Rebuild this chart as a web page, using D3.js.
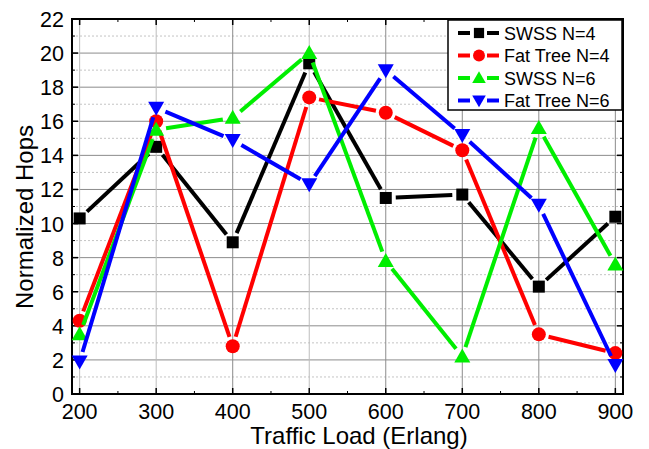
<!DOCTYPE html>
<head>
    <meta charset="utf-8">
    <script src="https://d3js.org/d3.v7.min.js"></script>
    <style>
      body { margin: 0; background: #fff; }
      text { font-family: "Liberation Sans", Arial, sans-serif; fill: #000; }
    </style>
</head>
<body>
    <script>
        // data
        var loads = [200, 300, 400, 500, 600, 700, 800, 900];
        var swss4 = [10.3, 14.5, 8.9, 19.4, 11.5, 11.7, 6.3, 10.4];
        var fatTree4 = [4.3, 16.0, 2.8, 17.4, 16.5, 14.3, 3.5, 2.4];
        var swss6 = [3.5, 15.5, 16.2, 20.0, 7.8, 2.2, 15.6, 7.6];
        var fatTree6 = [1.9, 16.8, 14.9, 12.3, 19.0, 15.2, 11.1, 1.7];
        var seriesNames = ["SWSS N=4", "Fat Tree N=4", "SWSS N=6", "Fat Tree N=6"];
        var yTicks = d3.range(0, 23, 2);

        var series = [
          {name: seriesNames[0], values: swss4, color: "#000000", sym: "square"},
          {name: seriesNames[1], values: fatTree4, color: "#ff0000", sym: "circle"},
          {name: seriesNames[2], values: swss6, color: "#00ee00", sym: "up"},
          {name: seriesNames[3], values: fatTree6, color: "#0000ff", sym: "down"}
        ];

        var W = 649, H = 449;
        var pLeft = 72, pRight = 623, pTop = 19, pBottom = 394;

        var svg = d3.select("body").append("svg")
          .attr("width", W).attr("height", H);

        var x = d3.scaleLinear().domain([190, 910]).range([pLeft, pRight]);
        var y = d3.scaleLinear().domain([0, 22]).range([pBottom, pTop]);

        // grid
        var grid = svg.append("g");
        grid.selectAll(".minor").data(d3.range(1, 22, 2)).enter().append("line")
          .attr("x1", pLeft).attr("x2", pRight)
          .attr("y1", function(d) {return y(d);}).attr("y2", function(d) {return y(d);})
          .attr("stroke", "#c4c4c4").attr("stroke-dasharray", "2,2").attr("stroke-width", 1);
        grid.selectAll(".hmajor").data(yTicks.slice(1, -1)).enter().append("line")
          .attr("x1", pLeft).attr("x2", pRight)
          .attr("y1", function(d) {return y(d);}).attr("y2", function(d) {return y(d);})
          .attr("stroke", "#8c8c8c").attr("stroke-width", 1);
        grid.selectAll(".vmajor").data(loads).enter().append("line")
          .attr("y1", pTop).attr("y2", pBottom)
          .attr("x1", function(d) {return x(d);}).attr("x2", function(d) {return x(d);})
          .attr("stroke", function(d) {return (d == 200 || d == 300 || d == 500) ? "#bdbdbd" : "#8c8c8c";})
          .attr("stroke-width", 1);

        // axes: ticks inward on all four sides
        var xMinor = d3.range(250, 900, 100);
        var yMinor = d3.range(1, 22, 2);
        var ax = svg.append("g").attr("stroke", "#000");
        function ticksX(yy, dir) {
          loads.forEach(function(d) {
            ax.append("line").attr("x1", x(d)).attr("x2", x(d)).attr("y1", yy).attr("y2", yy + dir*6).attr("stroke-width", 1.5);
          });
          xMinor.forEach(function(d) {
            ax.append("line").attr("x1", x(d)).attr("x2", x(d)).attr("y1", yy).attr("y2", yy + dir*3).attr("stroke-width", 1);
          });
        }
        function ticksY(xx, dir) {
          yTicks.forEach(function(d) {
            ax.append("line").attr("y1", y(d)).attr("y2", y(d)).attr("x1", xx).attr("x2", xx + dir*6).attr("stroke-width", 1.5);
          });
          yMinor.forEach(function(d) {
            ax.append("line").attr("y1", y(d)).attr("y2", y(d)).attr("x1", xx).attr("x2", xx + dir*3).attr("stroke-width", 1);
          });
        }
        ticksX(pBottom, -1); ticksX(pTop, 1);
        ticksY(pLeft, 1); ticksY(pRight, -1);
        svg.append("rect").attr("x", pLeft).attr("y", pTop)
          .attr("width", pRight - pLeft).attr("height", pBottom - pTop)
          .attr("fill", "none").attr("stroke", "#000").attr("stroke-width", 2);

        svg.selectAll(".xlab").data(loads).enter().append("text")
          .attr("x", function(d) {return x(d);}).attr("y", 419)
          .attr("text-anchor", "middle").attr("font-size", "21.5px")
          .text(function(d) {return d;});
        svg.selectAll(".ylab").data(yTicks).enter().append("text")
          .attr("x", 64).attr("y", function(d) {return y(d) + 8;})
          .attr("text-anchor", "end").attr("font-size", "21.5px")
          .text(function(d) {return d;});

        svg.append("text").attr("x", 359).attr("y", 444)
          .attr("text-anchor", "middle").attr("font-size", "24px")
          .text("Traffic Load (Erlang)");
        svg.append("text")
          .attr("transform", "translate(33,217) rotate(-90)")
          .attr("text-anchor", "middle").attr("font-size", "24px")
          .text("Normalized Hops");

        // markers
        function drawMarker(g, sym, cx, cy, color, k) {
          k = k || 1;
          if (sym == "square") {
            g.append("rect").attr("x", cx - 6*k).attr("y", cy - 6*k).attr("width", 12*k).attr("height", 12*k).attr("fill", color);
          } else if (sym == "circle") {
            g.append("circle").attr("cx", cx).attr("cy", cy).attr("r", 7*k).attr("fill", color);
          } else if (sym == "up") {
            g.append("path").attr("d", "M" + cx + "," + (cy - 8*k) + "L" + (cx + 8*k) + "," + (cy + 6*k) + "L" + (cx - 8*k) + "," + (cy + 6*k) + "Z").attr("fill", color);
          } else {
            g.append("path").attr("d", "M" + cx + "," + (cy + 8*k) + "L" + (cx + 8*k) + "," + (cy - 6*k) + "L" + (cx - 8*k) + "," + (cy - 6*k) + "Z").attr("fill", color);
          }
        }

        var gap = 10;
        series.forEach(function(s) {
          var g = svg.append("g");
          var pts = loads.map(function(d, i) {return [x(d), y(s.values[i])];});
          for (var i = 0; i < pts.length - 1; i++) {
            var a = pts[i], b = pts[i + 1];
            var dx = b[0] - a[0], dy = b[1] - a[1];
            var len = Math.sqrt(dx*dx + dy*dy);
            if (len <= 2*gap) continue;
            var ux = dx/len, uy = dy/len;
            g.append("line")
              .attr("x1", a[0] + ux*gap).attr("y1", a[1] + uy*gap)
              .attr("x2", b[0] - ux*gap).attr("y2", b[1] - uy*gap)
              .attr("stroke", s.color).attr("stroke-width", 4);
          }
          pts.forEach(function(p) {drawMarker(g, s.sym, p[0], p[1], s.color);});
        });

        // legend
        var lg = svg.append("g");
        lg.append("rect").attr("x", 448).attr("y", 20).attr("width", 174).attr("height", 90)
          .attr("fill", "#fff").attr("stroke", "#000").attr("stroke-width", 1.5);
        series.forEach(function(s, i) {
          var cy = 33 + i*22.5;
          lg.append("line").attr("x1", 458).attr("x2", 470).attr("y1", cy).attr("y2", cy)
            .attr("stroke", s.color).attr("stroke-width", 4);
          lg.append("line").attr("x1", 487).attr("x2", 499).attr("y1", cy).attr("y2", cy)
            .attr("stroke", s.color).attr("stroke-width", 4);
          drawMarker(lg, s.sym, 479, cy, s.color, 0.85);
          lg.append("text").attr("x", 504).attr("y", cy + 6.5).attr("font-size", "18px").text(s.name);
        });
    </script>
</body>
